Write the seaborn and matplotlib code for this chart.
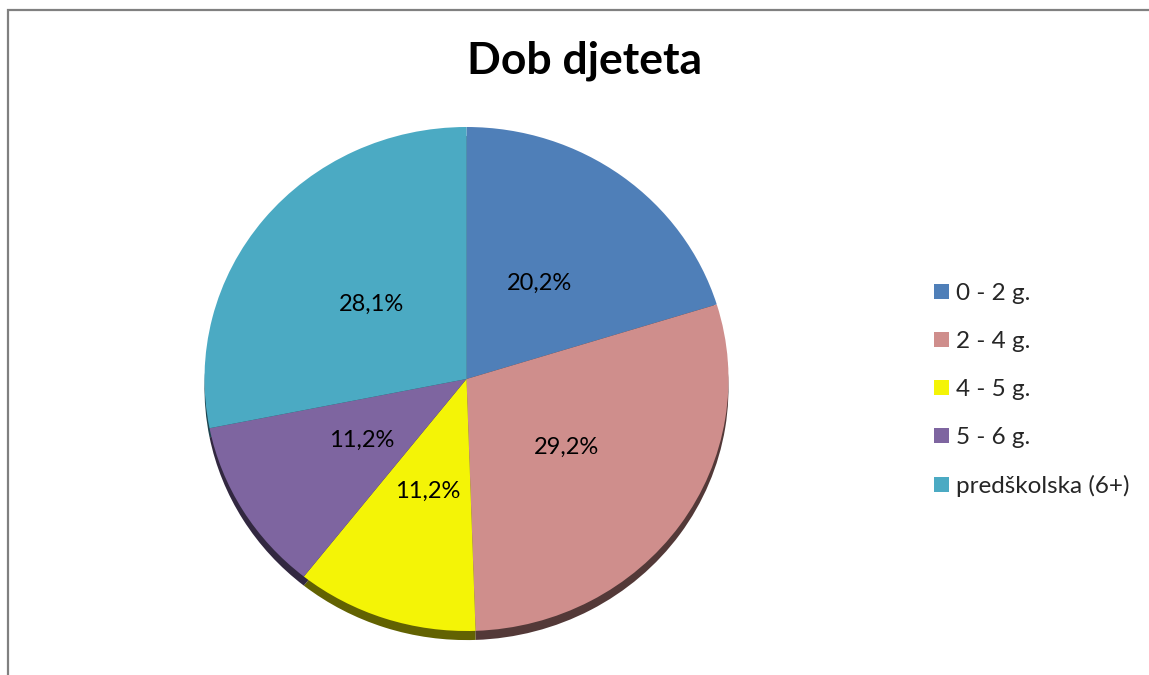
import matplotlib
matplotlib.use("Agg")
import matplotlib.pyplot as plt
import matplotlib.colors as mcolors
from matplotlib.patches import Rectangle
import seaborn as sns

# data
categories = ["0 - 2 g.", "2 - 4 g.", "4 - 5 g.", "5 - 6 g.", "predškolska (6+)"]
shares = [20.2, 29.2, 11.2, 11.2, 28.1]
colors = ["#4F7FB8", "#CF8E8C", "#F4F406", "#7E65A0", "#4BAAC3"]
title = "Dob djeteta"

sns.set_theme(style="white")
plt.rcParams["font.family"] = ["Lato", "DejaVu Sans"]

W, H = 1149, 675
fig = plt.figure(figsize=(W / 100, H / 100), dpi=100)
fig.patch.set_facecolor("white")

# chart frame (only left and top edges visible)
fig.patches.append(Rectangle((8 / W, -0.1), 1.2, (H - 10) / H + 0.1,
                             transform=fig.transFigure, fill=False,
                             edgecolor="#808080", linewidth=1.6))

# pie geometry in pixels
cx, cy, rx, ry = 466.5, 379, 262, 252
pad = 1.1
ax = fig.add_axes([(cx - rx * pad) / W, (H - cy - ry * pad) / H,
                   2 * rx * pad / W, 2 * ry * pad / H])

shadow = [mcolors.to_hex([c * 0.4 for c in mcolors.to_rgb(col)]) for col in colors]
ax.pie(shares, colors=shadow, startangle=90, counterclock=False,
       center=(0, -0.036), wedgeprops=dict(linewidth=0))

wedges, texts, autotexts = ax.pie(
    shares, colors=colors, startangle=90, counterclock=False,
    autopct=lambda p: f"{p:.1f}%".replace(".", ","), pctdistance=0.47,
    wedgeprops=dict(linewidth=0), textprops=dict(fontsize=17, color="black"))

ax.set_aspect("auto")
ax.set_xlim(-pad, pad)
ax.set_ylim(-pad, pad)
ax.axis("off")

fig.text(585 / W, 1 - 61 / H, title, ha="center", va="center",
         fontsize=32, fontweight="bold", color="black")

fig.legend(wedges, categories, loc="upper left",
           bbox_to_anchor=(934 / W, 1 - 283 / H), frameon=False,
           fontsize=17.5, handlelength=0.62, handleheight=0.62,
           handletextpad=0.3, labelspacing=1.11, borderpad=0,
           borderaxespad=0)

fig.savefig("out.png", dpi=100)
